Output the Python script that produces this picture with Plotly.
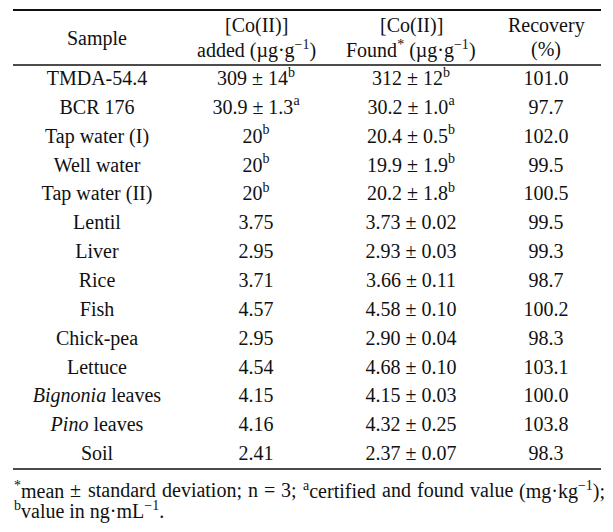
import plotly.graph_objects as go

# ---- data ----
samples = ["TMDA-54.4", "BCR 176", "Tap water (I)", "Well water", "Tap water (II)",
           "Lentil", "Liver", "Rice", "Fish", "Chick-pea", "Lettuce",
           "<i>Bignonia</i> leaves", "<i>Pino</i> leaves", "Soil"]
added = ["309 ± 14<sup>b</sup>", "30.9 ± 1.3<sup>a</sup>", "20<sup>b</sup>", "20<sup>b</sup>",
         "20<sup>b</sup>", "3.75", "2.95", "3.71", "4.57", "2.95", "4.54", "4.15", "4.16", "2.41"]
found = ["312 ± 12<sup>b</sup>", "30.2 ± 1.0<sup>a</sup>", "20.4 ± 0.5<sup>b</sup>",
         "19.9 ± 1.9<sup>b</sup>", "20.2 ± 1.8<sup>b</sup>", "3.73 ± 0.02", "2.93 ± 0.03",
         "3.66 ± 0.11", "4.58 ± 0.10", "2.90 ± 0.04", "4.68 ± 0.10", "4.15 ± 0.03",
         "4.32 ± 0.25", "2.37 ± 0.07"]
recovery = [101.0, 97.7, 102.0, 99.5, 100.5, 99.5, 99.3, 98.7, 100.2, 98.3, 103.1, 100.0, 103.8, 98.3]

header_line1 = ["", "[Co(II)]", "[Co(II)]", "Recovery"]
header_line2 = ["", "added (µg·g<sup>−1</sup>)", "Found<sup>*</sup> (µg·g<sup>−1</sup>)", "(%)"]
header_single = ["Sample", "", "", ""]
foot_words = ["<sup>*</sup>mean", "±", "standard", "deviation;", "n", "=", "3;",
              "<sup>a</sup>certified", "and", "found", "value", "(mg·kg<sup>−1</sup>);"]
foot_line2 = "<sup>b</sup>value in ng·mL<sup>−1</sup>."

# ---- layout constants (page pixels; figure div sits 8px in from the page corner) ----
OFF = 8
W, H = 613 - OFF, 532 - OFF
col_x = [97, 256, 411, 546]
row0_px, row_step = 80, 28.85
FONT = "Liberation Serif, Times New Roman, serif"
FS = 20
INK = "#111111"
# left edges of the justified first footnote line
foot_x = [14, 70, 88, 162, 248, 264, 281, 303, 382, 417, 470, 519]

n = len(samples)
y_top = -(row0_px - OFF) / row_step
y_bot = (H - (row0_px - OFF)) / row_step

def py(px):
    return 1 - (px - OFF) / H

def px_x(px):
    return px - OFF

columns = [samples, added, found, ["%.1f" % v for v in recovery]]

fig = go.Figure()
for cx, col in zip(col_x, columns):
    fig.add_trace(go.Scatter(
        x=[px_x(cx)] * n, y=list(range(n)), mode="text", text=col,
        textposition="middle center",
        textfont=dict(family=FONT, size=FS, color=INK),
        hoverinfo="skip", showlegend=False, cliponaxis=False))

annotations = []
def ann(x, ypx, text, xanchor="center"):
    annotations.append(dict(x=px_x(x), xref="x", y=py(ypx), yref="paper", text=text,
                            showarrow=False, xanchor=xanchor, yanchor="middle",
                            borderpad=0, borderwidth=0,
                            font=dict(family=FONT, size=FS, color=INK)))

for cx, h1, h2, hs in zip(col_x, header_line1, header_line2, header_single):
    if hs:
        ann(cx, 38, hs)
    else:
        ann(cx, 25, h1)
        ann(cx, 50, h2)

for fx, w in zip(foot_x, foot_words):
    ann(fx, 490, w, "left")
ann(14, 510, foot_line2, "left")

shapes = []
for ypx, lw in [(10, 1.8), (65, 1.5), (469, 1.5)]:
    shapes.append(dict(type="line", xref="x", yref="paper", x0=px_x(13), x1=px_x(601),
                       y0=py(ypx), y1=py(ypx), line=dict(color=INK, width=lw)))

fig.update_layout(
    width=W, height=H, margin=dict(l=0, r=0, t=0, b=0),
    paper_bgcolor="white", plot_bgcolor="white",
    xaxis=dict(range=[0, W], visible=False, fixedrange=True),
    yaxis=dict(range=[y_bot, y_top], visible=False, fixedrange=True),
    annotations=annotations, shapes=shapes,
)

fig.write_html("out.html")
